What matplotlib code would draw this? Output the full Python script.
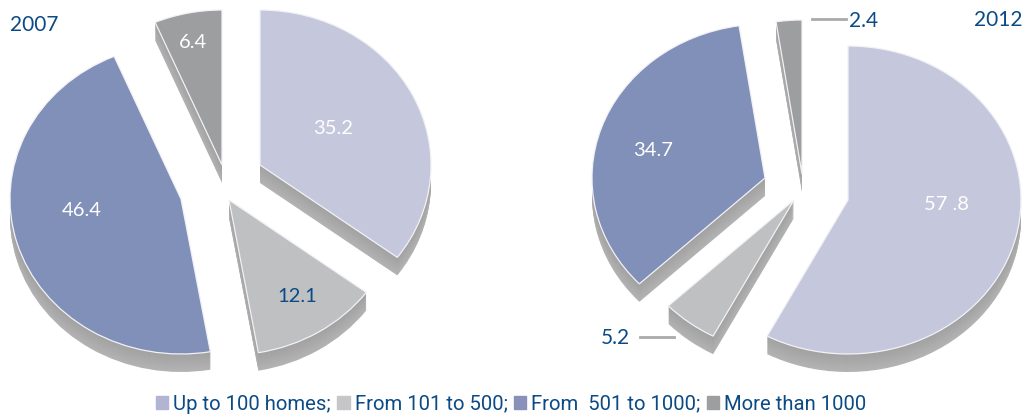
import matplotlib
matplotlib.use('Agg')
import matplotlib.pyplot as plt
from matplotlib.lines import Line2D
from matplotlib.patches import Patch

plt.rcParams['font.family'] = ['Lato', 'DejaVu Sans']

W, H = 1025, 418

categorias = ['Up to 100 homes;', 'From 101 to 500;', 'From  501 to 1000;', 'More than 1000']
valores_2007 = [35.2, 12.1, 46.4, 6.4]
valores_2012 = [57.8, 5.2, 34.7, 2.4]
rotulos_2007 = ['35.2', '12.1', '46.4', '6.4']
rotulos_2012 = ['57 .8', '', '34.7', '']

cores = ['#c5c8dc', '#bfc0c2', '#8090b8', '#9d9ea0']
cores_legenda = ['#b1b5d3', '#c6c6c8', '#8a91b9', '#9d9ea0']
azul = '#0b4a85'

# posição de cada fatia em pixels (ponta da fatia)
pontas_2007 = [(260, 165), (229, 200), (181, 199), (222, 165)]
pontas_2012 = [(848, 200), (794, 200), (765, 178), (802, 174)]
pos_rotulos_2007 = [(333, 128), (297, 297), (82, 211), (193, 43)]
pos_rotulos_2012 = [(947, 204), (0, 0), (653, 150), (0, 0)]


def desenha_pizza(fig, valores, pontas, rx, ry, profundidade=18):
    ax = fig.add_axes([0, 0, 1, 1])
    total = sum(valores)
    inicio = 90
    for valor, ponta, cor in zip(valores, pontas, cores):
        cx = ponta[0] / rx
        cy = (H - ponta[1]) / ry
        # lateral: pilha de cópias deslocadas para baixo
        for d in range(profundidade, 0, -1):
            tom = 0.70 - 0.07 * (1 - d / profundidade)
            w, _ = ax.pie([valor, total - valor], startangle=inicio, counterclock=False,
                          center=(cx, cy - d / ry), radius=1, colors=[str(tom), 'none'],
                          wedgeprops={'linewidth': 0})
            w[1].set_visible(False)
        w, _ = ax.pie([valor, total - valor], startangle=inicio, counterclock=False,
                      center=(cx, cy), radius=1, colors=[cor, 'none'],
                      wedgeprops={'linewidth': 0.9, 'edgecolor': '#f2f2f6'})
        w[1].set_visible(False)
        inicio -= 360 * valor / total
    ax.set_aspect('auto')
    ax.set_xlim(0, W / rx)
    ax.set_ylim(0, H / ry)
    return ax


def texto(fig, x, y, s, cor='white', tam=14.5):
    fig.text(x / W, 1 - y / H, s, color=cor, fontsize=tam, ha='center', va='center')


def linha(fig, x0, x1, y):
    fig.add_artist(Line2D([x0 / W, x1 / W], [1 - y / H, 1 - y / H], color='#a9aaac', lw=2))


fig = plt.figure(figsize=(W / 100, H / 100), dpi=100)

desenha_pizza(fig, valores_2007, pontas_2007, 171, 155)
desenha_pizza(fig, valores_2012, pontas_2012, 173, 154)

for s, p, c in zip(rotulos_2007, pos_rotulos_2007, ['white', azul, 'white', 'white']):
    texto(fig, p[0], p[1], s, c)
for s, p in zip(rotulos_2012, pos_rotulos_2012):
    if s:
        texto(fig, p[0], p[1], s)

texto(fig, 34, 25, '2007', azul, 15)
texto(fig, 998, 20, '2012', azul, 15)
texto(fig, 864, 21, '2.4', azul, 15)
texto(fig, 615, 338, '5.2', azul, 15)
linha(fig, 812, 846, 19)
linha(fig, 640, 674, 337)

handles = [Patch(color=c, label=l) for c, l in zip(cores_legenda, categorias)]
fig.legend(handles=handles, loc='center', bbox_to_anchor=(511 / W, 1 - 404 / H), ncol=4,
           frameon=False, prop={'family': 'Roboto', 'size': 14.6}, labelcolor=azul,
           handlelength=0.62, handleheight=0.62,
           handletextpad=0.25, columnspacing=0.3, borderpad=0)

fig.savefig('out.png', dpi=100)
